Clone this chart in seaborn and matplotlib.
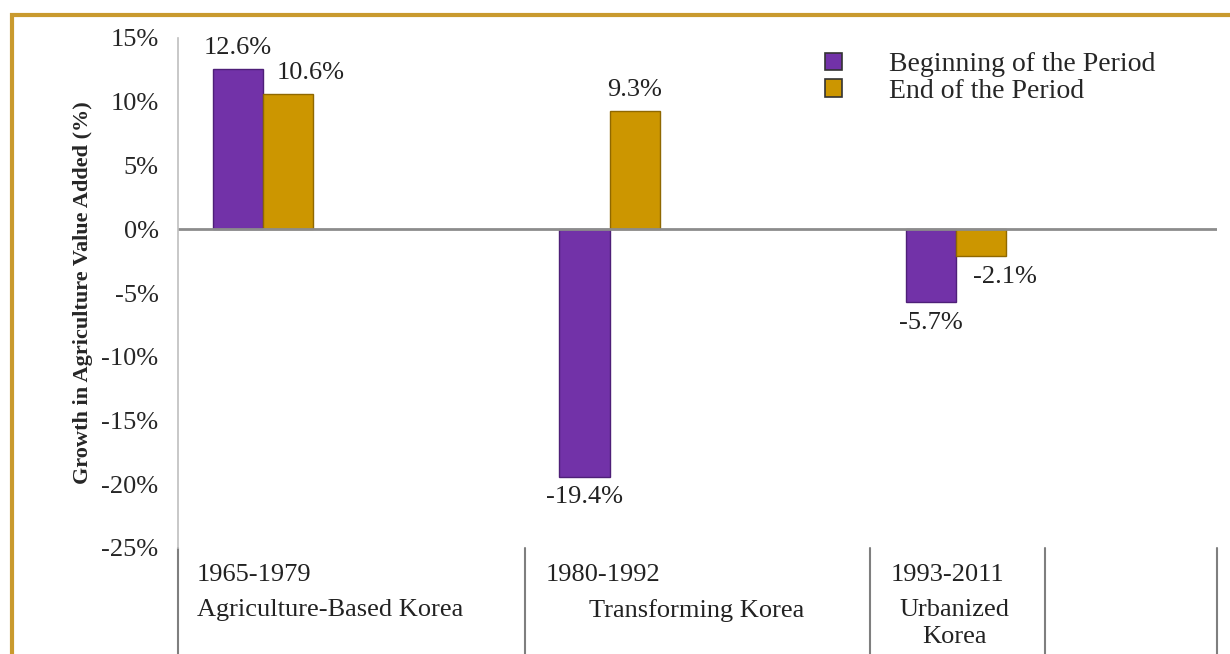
import numpy as np
import pandas as pd
import matplotlib
matplotlib.use("Agg")
import matplotlib.pyplot as plt
import seaborn as sns
from matplotlib.patches import Rectangle
from matplotlib.transforms import blended_transform_factory

# data
periods = ["1965-1979", "1980-1992", "1993-2011"]
eras = ["Agriculture-Based Korea", "Transforming Korea", "Urbanized\nKorea"]
series = ["Beginning of the Period", "End of the Period"]
beginning = [12.6, -19.4, -5.7]
end = [10.6, 9.3, -2.1]

df = pd.DataFrame({
    "period": periods * 2,
    "series": [series[0]] * 3 + [series[1]] * 3,
    "growth": beginning + end,
})

sns.set_style("white")
plt.rcParams["font.family"] = ["Liberation Serif", "DejaVu Serif"]

purple = "#7232A8"
gold = "#CC9600"

fig = plt.figure(figsize=(12.3, 6.54), dpi=100)
ax = fig.add_axes([178 / 1230, 1 - 548 / 654, (1217 - 178) / 1230, (548 - 38) / 654])

sns.barplot(data=df, x="period", y="growth", hue="series", order=periods,
            hue_order=series, palette=[purple, gold], width=0.289, dodge=True,
            saturation=1, edgecolor="none", ax=ax)

# darker side edge to hint at the bevel
for cont, edge in zip(ax.containers, ["#4E1F78", "#8F6800"]):
    for p in cont:
        p.set_edgecolor(edge)
        p.set_linewidth(1.0)

ax.set_xlim(-0.2453, 2.753)
ax.set_ylim(-25, 15)
ax.set_yticks(np.arange(-25, 16, 5))
ax.set_yticklabels([f"{v}%" for v in range(-25, 16, 5)], fontsize=19)
ax.set_xticks([])
ax.set_xlabel("")
ax.set_ylabel("Growth in Agriculture Value Added (%)", fontsize=16,
              fontweight="bold", labelpad=6)
ax.tick_params(axis="y", length=7, width=1, color="#BFBFBF", direction="out", pad=7)

for s in ["top", "right", "bottom"]:
    ax.spines[s].set_visible(False)
ax.spines["left"].set_color("#BFBFBF")
ax.spines["left"].set_linewidth(1.2)
ax.axhline(0, color="#8C8C8C", lw=2, zorder=1)

# value labels
label_dx = [[0, 0, 0], [16, 0, 17]]
for cont, dxs in zip(ax.containers, label_dx):
    for p, dx in zip(cont, dxs):
        v = p.get_height()
        x = p.get_x() + p.get_width() / 2
        dy = 15 if v >= 0 else -15
        ax.annotate(f"{v:.1f}%", (x, v), xytext=(dx, dy), textcoords="offset points",
                    ha="center", va="center", fontsize=19, color="#222222")

# table-like category axis under the plot
trans = blended_transform_factory(ax.transData, ax.transAxes)
for xs in [-0.2453, 0.756, 1.752, 2.257, 2.753]:
    ax.plot([xs, xs], [0, -0.21], transform=trans, color="#7F7F7F", lw=1.5,
            clip_on=False)

period_x = [-0.19, 0.815, 1.81]
era_x = [-0.19, 1.25, 1.995]
era_ha = ["left", "center", "center"]
for px, per in zip(period_x, periods):
    ax.text(px, -0.053, per, transform=trans, ha="left", va="center", fontsize=19,
            color="#222222")
for ex, era, ha in zip(era_x, eras, era_ha):
    ax.text(ex, -0.1, era, transform=trans, ha=ha, va="top", fontsize=19,
            color="#222222", linespacing=1.3)

leg = ax.legend(loc="upper left", bbox_to_anchor=(0.604, 1.01), frameon=False,
                fontsize=20, handlelength=0.6, handleheight=0.6, handletextpad=1.7,
                labelspacing=0.05, borderpad=0.2)
for h in leg.legend_handles:
    h.set_edgecolor("#333333")
    h.set_linewidth(1.2)

# golden frame around the chart
fig.patches.append(Rectangle((12 / 1230, -0.1), 1.2, 1.1 - 15 / 654,
                             transform=fig.transFigure, fill=False,
                             edgecolor="#C99A2E", lw=3))

fig.savefig("out.png", dpi=100)
